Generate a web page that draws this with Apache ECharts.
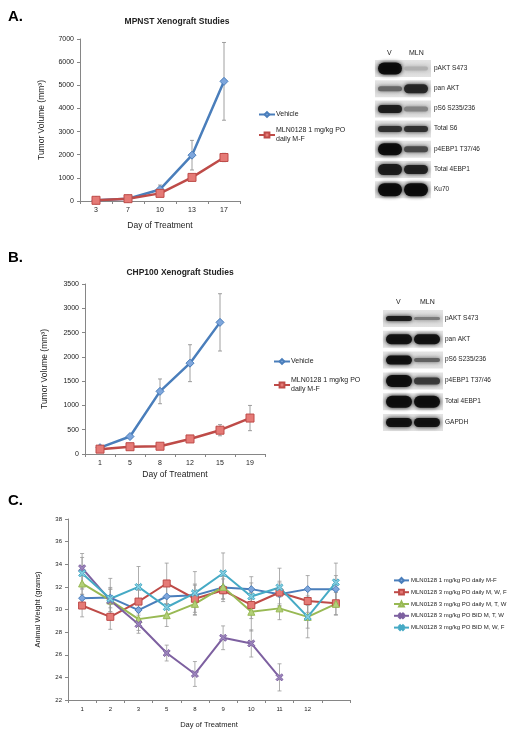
<!DOCTYPE html>
<html><head><meta charset="utf-8">
<script src="https://cdn.jsdelivr.net/npm/echarts/dist/echarts.min.js"></script>
<style>html,body{margin:0;padding:0;background:#fff}#c{width:512px;height:734px}</style>
</head><body><div id="c"></div><script>
// ---------- Panel A data ----------
const daysA = ['3','7','10','13','17'];
const vehA = [30, 100, 500, 1980, 5170];
const vehAErr = [15, 25, 190, 640, 1680];
const mlnA = [30, 100, 330, 1020, 1880];
const mlnAErr = [15, 25, 60, 150, 180];
const ticksA = [0, 1000, 2000, 3000, 4000, 5000, 6000, 7000];

// ---------- Panel B data ----------
const daysB = ['1','5','8','12','15','19'];
const vehB = [130, 360, 1290, 1870, 2710, null];
const vehBErr = [40, 40, 255, 380, 590, null];
const mlnB = [100, 150, 160, 310, 490, 740];
const mlnBErr = [30, 30, 30, 40, 115, 260];
const ticksB = [0, 500, 1000, 1500, 2000, 2500, 3000, 3500];

// ---------- Panel C data ----------
const daysC = ['1','2','3','5','8','9','10','11','12',''];
const c1 = [31.0, 31.05, 29.95, 31.15, 31.25, 31.95, 31.8, 31.35, 31.8, 31.8];
const c1Err = [0.9, 0.9, 0.7, 0.9, 1.0, 1.0, 1.1, 1.0, 1.2, 1.2];
const c2 = [30.35, 29.35, 30.7, 32.3, 30.95, 31.7, 30.4, 31.5, 30.75, 30.55];
const c2Err = [1.0, 1.1, 1.0, 1.8, 1.2, 1.0, 1.2, 1.0, 1.0, 1.0];
const c3 = [32.3, 30.8, 29.15, 29.5, 30.5, 32.0, 29.8, 30.1, 29.35, 30.5];
const c3Err = [1.0, 1.0, 1.0, 1.0, 1.0, 1.1, 1.7, 1.0, 1.0, 1.0];
const c4 = [33.65, 30.8, 28.7, 26.15, 24.3, 27.5, 27.0, 24.0, null, null];
const c4Err = [1.3, 1.0, 0.8, 0.7, 1.1, 1.05, 1.2, 1.2, null, null];
const c5 = [33.2, 30.95, 32.0, 30.2, 31.45, 33.2, 31.15, 31.95, 29.35, 32.4];
const c5Err = [1.4, 1.8, 1.8, 1.0, 1.9, 1.8, 1.2, 1.7, 1.85, 1.7];

const legendA = ['Vehicle', 'MLN0128 1 mg/kg PO daily M-F'];
const legendC = ['MLN0128 1 mg/kg PO daily M-F', 'MLN0128 3 mg/kg PO daily M, W, F',
  'MLN0128 3 mg/kg PO daily M, T, W', 'MLN0128 3 mg/kg PO BID M, T, W', 'MLN0128 3 mg/kg PO BID M, W, F'];

// ---------- Western blot labels / band intensities (V, MLN) ----------
const blotALabels = ['pAKT S473', 'pan AKT', 'pS6 S235/236', 'Total S6', 'p4EBP1 T37/46', 'Total 4EBP1', 'Ku70'];
const blotABands = [[[10,12],[175,4]], [[100,5],[35,9]], [[25,8],[130,5]], [[45,6],[45,6]], [[10,12],[70,6]], [[25,11],[30,9]], [[10,13],[10,13]]];
const blotBLabels = ['pAKT S473', 'pan AKT', 'pS6 S235/236', 'p4EBP1 T37/46', 'Total 4EBP1', 'GAPDH'];
const blotBBands = [[[25,5],[120,3]], [[15,10],[15,10]], [[15,9],[95,4]], [[12,12],[55,7]], [[12,12],[12,12]], [[15,9],[15,9]]];

const FONT = 'Liberation Sans, Arial, sans-serif';
const chart = echarts.init(document.getElementById('c'));

function errSeries(xi, vals, errs, color) {
  const data = [];
  vals.forEach((v, i) => { if (v != null && errs[i] != null) data.push([i, v - errs[i], v + errs[i]]); });
  return {
    type: 'custom', xAxisIndex: xi, yAxisIndex: xi, silent: true, z: 3,
    encode: { x: 0, y: [1, 2] }, data,
    renderItem(params, api) {
      const x = api.value(0);
      const p1 = api.coord([x, api.value(1)]), p2 = api.coord([x, api.value(2)]);
      const w = 2, st = { stroke: color, lineWidth: 0.8 };
      return { type: 'group', children: [
        { type: 'line', shape: { x1: p1[0], y1: p1[1], x2: p2[0], y2: p2[1] }, style: st },
        { type: 'line', shape: { x1: p1[0]-w, y1: p1[1], x2: p1[0]+w, y2: p1[1] }, style: st },
        { type: 'line', shape: { x1: p2[0]-w, y1: p2[1], x2: p2[0]+w, y2: p2[1] }, style: st }
      ]};
    }
  };
}
function lineSeries(name, xi, data, color, fill, symbol, size, width) {
  return { name, type: 'line', xAxisIndex: xi, yAxisIndex: xi, data, symbol, symbolSize: size,
    showSymbol: true, connectNulls: false, z: 5, animation: false,
    lineStyle: { color, width }, itemStyle: { color: fill, borderColor: color, borderWidth: 1 } };
}
const XSYM = 'path://M2,0L5,3L8,0L10,2L7,5L10,8L8,10L5,7L2,10L0,8L3,5L0,2Z';
const AX = '#868686';
function xAx(gi, cats, fs, nameGap) {
  return { type: 'category', gridIndex: gi, data: cats, boundaryGap: true,
    name: 'Day of Treatment', nameLocation: 'middle', nameGap,
    nameTextStyle: { fontFamily: FONT, fontSize: gi === 2 ? 7.5 : 8.5, color: '#222' },
    axisLine: { lineStyle: { color: AX, width: 1 } },
    axisTick: { show: true, alignWithLabel: false, length: 3, lineStyle: { color: AX } },
    axisLabel: { fontFamily: FONT, fontSize: fs, color: '#222', margin: 6, interval: 0 },
    splitLine: { show: false } };
}
function yAx(gi, min, max, interval, name, fs, nameGap, nfs) {
  return { type: 'value', gridIndex: gi, min, max, interval,
    name, nameLocation: 'middle', nameGap, nameRotate: 90,
    nameTextStyle: { fontFamily: FONT, fontSize: nfs, color: '#222' },
    axisLine: { show: true, lineStyle: { color: AX, width: 1 } },
    axisTick: { show: true, length: 3, lineStyle: { color: AX } },
    axisLabel: { fontFamily: FONT, fontSize: fs, color: '#222', margin: 6, formatter: v => String(v) },
    splitLine: { show: false } };
}

// ----- blot graphics -----
const graphics = [];
function blot(labels, bands, x0, laneW, gap, top0, step, h, labelX, headerY) {
  const totalW = laneW * 2 + gap + 6;
  graphics.push({ type: 'text', left: x0 + 3 + laneW/2 - 3, top: headerY, style: { text: 'V', font: '7px ' + FONT, fill: '#222' } });
  graphics.push({ type: 'text', left: x0 + 3 + laneW + gap + laneW/2 - 7, top: headerY, style: { text: 'MLN', font: '7px ' + FONT, fill: '#222' } });
  labels.forEach((lab, r) => {
    const y = top0 + r * step;
    graphics.push({ type: 'rect', shape: { x: x0, y, width: totalW, height: h },
      style: { fill: new echarts.graphic.LinearGradient(0, 0, 0, 1, [{offset:0,color:'#e4e4e4'},{offset:0.5,color:'#d6d6d6'},{offset:1,color:'#e2e2e2'}]) } });
    bands[r].forEach((b, k) => {
      const g = b[0], th = b[1];
      const bx = x0 + 2 + k * (laneW + gap);
      const c = 'rgb(' + g + ',' + g + ',' + g + ')';
      graphics.push({ type: 'rect', shape: { x: bx + 1, y: y + h/2 - th/2, width: laneW, height: th, r: th/2 },
        style: { fill: c, shadowBlur: 4, shadowColor: c, opacity: 0.95 } });
    });
    graphics.push({ type: 'text', left: labelX, top: y + h/2 - 4, style: { text: lab, font: '6.5px ' + FONT, fill: '#222' } });
  });
}
blot(blotALabels, blotABands, 375, 24, 2, 60, 20.2, 17, 434, 50);
blot(blotBLabels, blotBBands, 383, 26, 2, 310, 20.8, 17, 445, 299);

const option = {
  animation: false,
  backgroundColor: '#fff',
  textStyle: { fontFamily: FONT },
  title: [
    { text: 'A.', left: 3, top: 4, textStyle: { fontFamily: FONT, fontSize: 15, fontWeight: 'bold', color: '#000' } },
    { text: 'MPNST Xenograft Studies', left: 172, top: 12, textAlign: 'center', textStyle: { fontFamily: FONT, fontSize: 8.5, fontWeight: 'bold', color: '#222' } },
    { text: 'B.', left: 3, top: 245, textStyle: { fontFamily: FONT, fontSize: 15, fontWeight: 'bold', color: '#000' } },
    { text: 'CHP100 Xenograft Studies', left: 175, top: 263, textAlign: 'center', textStyle: { fontFamily: FONT, fontSize: 8.5, fontWeight: 'bold', color: '#222' } },
    { text: 'C.', left: 3, top: 488, textStyle: { fontFamily: FONT, fontSize: 15, fontWeight: 'bold', color: '#000' } }
  ],
  grid: [
    { left: 80, top: 39, width: 160, height: 162 },
    { left: 85, top: 284, width: 180, height: 170 },
    { left: 68, top: 519, width: 282, height: 181 }
  ],
  xAxis: [ xAx(0, daysA, 7, 20), xAx(1, daysB, 7, 16), xAx(2, daysC, 6, 21) ],
  yAxis: [
    yAx(0, 0, 7000, 1000, 'Tumor Volume (mm³)', 7, 34, 8.5),
    yAx(1, 0, 3500, 500, 'Tumor Volume (mm³)', 7, 36, 8.5),
    yAx(2, 22, 38, 2, 'Animal Weight (grams)', 6, 26, 7.5)
  ],
  legend: [
    { data: ['A_veh', 'A_mln'], orient: 'vertical', left: 253, top: 105, itemGap: 7, itemWidth: 16, itemHeight: 6,
      formatter: n => n === 'A_veh' ? legendA[0] : 'MLN0128 1 mg/kg PO\ndaily M-F',
      textStyle: { fontFamily: FONT, fontSize: 7, color: '#222', lineHeight: 9, padding: [0,0,0,-4] }, selectedMode: false },
    { data: ['B_veh', 'B_mln'], orient: 'vertical', left: 268, top: 352, itemGap: 10, itemWidth: 16, itemHeight: 6,
      formatter: n => n === 'B_veh' ? legendA[0] : 'MLN0128 1 mg/kg PO\ndaily M-F',
      textStyle: { fontFamily: FONT, fontSize: 7, color: '#222', lineHeight: 9, padding: [0,0,0,-4] }, selectedMode: false },
    { data: ['C1','C2','C3','C4','C5'], orient: 'vertical', left: 388, top: 572, itemGap: 5, itemWidth: 15, itemHeight: 6,
      formatter: n => legendC[+n.slice(1) - 1],
      textStyle: { fontFamily: FONT, fontSize: 6, color: '#222', padding: [0,0,0,-3] }, selectedMode: false }
  ],
  series: [
    errSeries(0, vehA, vehAErr, '#888'),
    errSeries(0, mlnA, mlnAErr, '#888'),
    lineSeries('A_veh', 0, vehA, '#4a7ebb', '#7ea6dc', 'diamond', 8, 2.5),
    lineSeries('A_mln', 0, mlnA, '#be4b48', '#e57a76', 'rect', 8, 2.5),
    errSeries(1, vehB, vehBErr, '#888'),
    errSeries(1, mlnB, mlnBErr, '#888'),
    lineSeries('B_veh', 1, vehB, '#4a7ebb', '#7ea6dc', 'diamond', 8, 2.5),
    lineSeries('B_mln', 1, mlnB, '#be4b48', '#e57a76', 'rect', 8, 2.5),
    errSeries(2, c1, c1Err, '#999'),
    errSeries(2, c2, c2Err, '#999'),
    errSeries(2, c3, c3Err, '#999'),
    errSeries(2, c4, c4Err, '#999'),
    errSeries(2, c5, c5Err, '#999'),
    lineSeries('C1', 2, c1, '#4a7ebb', '#7ea6dc', 'diamond', 7, 2),
    lineSeries('C2', 2, c2, '#be4b48', '#e57a76', 'rect', 7, 2),
    lineSeries('C3', 2, c3, '#98b954', '#b2d078', 'triangle', 7, 2),
    lineSeries('C4', 2, c4, '#7d60a0', '#9c86bd', XSYM, 7, 2),
    lineSeries('C5', 2, c5, '#46aac5', '#86cfe2', XSYM, 7, 2)
  ],
  graphic: graphics
};
chart.setOption(option);
</script></body></html>
